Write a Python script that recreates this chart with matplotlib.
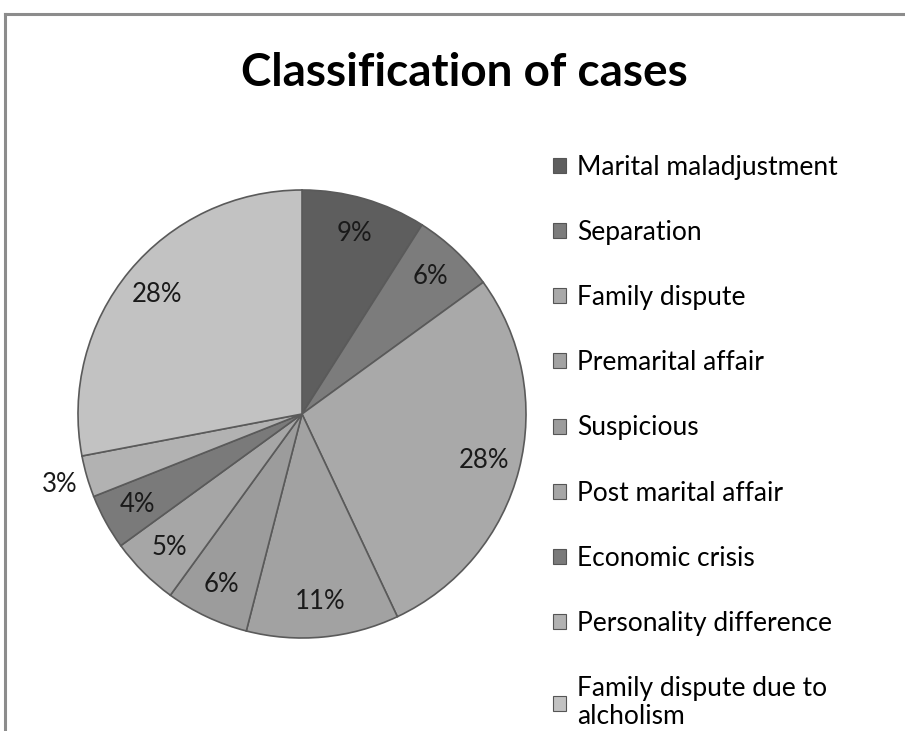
import matplotlib.pyplot as plt
from matplotlib.patches import Patch
from matplotlib.lines import Line2D

plt.rcParams['font.family'] = ['Lato', 'DejaVu Sans']

# data
categories = ['Marital maladjustment', 'Separation', 'Family dispute',
              'Premarital affair', 'Suspicious', 'Post marital affair',
              'Economic crisis', 'Personality difference',
              'Family dispute due to\nalcholism']
shares = [9, 6, 28, 11, 6, 5, 4, 3, 28]
colors = ['#5e5e5e', '#7c7c7c', '#a9a9a9', '#a2a2a2', '#9c9c9c',
          '#a6a6a6', '#7a7a7a', '#b2b2b2', '#c2c2c2']

fig = plt.figure(figsize=(9.05, 7.31), dpi=100)

# frame border (top and left edges, like a cropped chart box)
fig.add_artist(Line2D([5 / 905, 5 / 905], [0, 1 - 14 / 731], color='#8c8c8c', lw=2.2))
fig.add_artist(Line2D([5 / 905, 1], [1 - 14 / 731, 1 - 14 / 731], color='#8c8c8c', lw=2.2))

# pie axes: center ~ (302, 414) px, radius ~224 px
cx, cy, r = 302, 414, 224
ax = fig.add_axes([(cx - r) / 905, (731 - cy - r) / 731, 2 * r / 905, 2 * r / 731])
wedges, texts, autotexts = ax.pie(
    shares, colors=colors, startangle=90, counterclock=False,
    autopct='%d%%', pctdistance=0.84,
    wedgeprops=dict(edgecolor='#5a5a5a', linewidth=1.2),
    textprops=dict(fontsize=18.5, color='#1a1a1a'))
ax.set_xlim(-1, 1)
ax.set_ylim(-1, 1)
ax.set_aspect('equal')
ax.axis('off')

# the 3% label sits outside the pie
x, y = autotexts[7].get_position()
autotexts[7].set_position((x * 1.34, y * 1.34))

fig.text(0.513, 1 - 86 / 731, 'Classification of cases', ha='center', va='baseline',
         fontsize=33, fontweight='bold')

handles = [Patch(facecolor=c, edgecolor='#555555', linewidth=0.8) for c in colors]
leg = fig.legend(handles, categories, loc='upper left',
                 bbox_to_anchor=(553 / 905, 1 - 155 / 731), frameon=False,
                 fontsize=19, handlelength=0.5, handleheight=0.5,
                 handletextpad=0.4, labelspacing=1.52, borderpad=0,
                 borderaxespad=0)
for t in leg.get_texts():
    t.set_linespacing(1.15)

fig.savefig('out.png', dpi=100)
